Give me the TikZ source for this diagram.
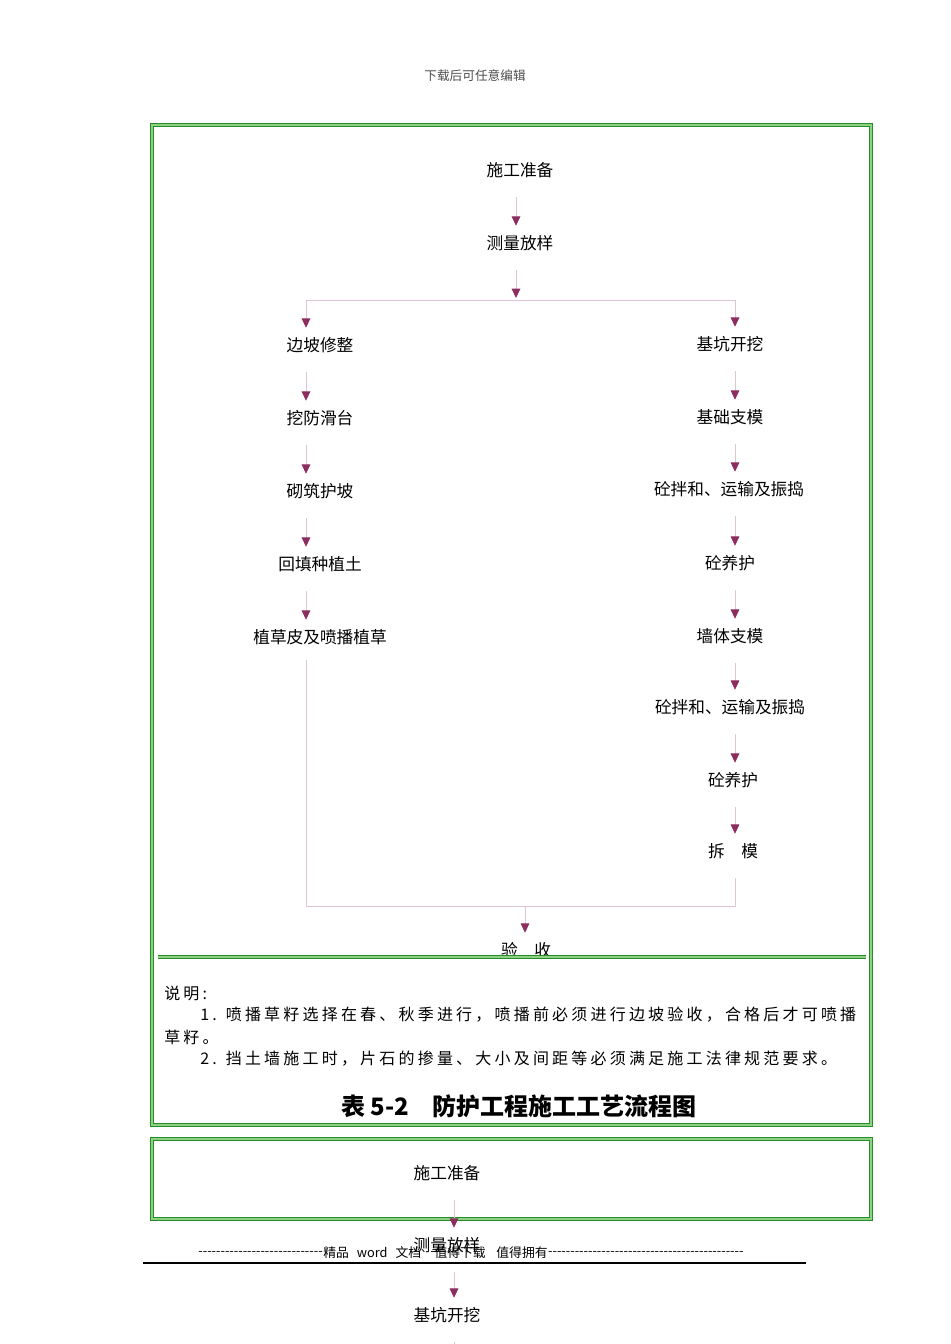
\documentclass[tikz,border=0pt]{standalone}
\usepackage{fontspec}
\setmainfont{Noto Sans CJK SC}
\newfontfamily\notefont[LetterSpace=20]{Noto Sans CJK SC}
\newfontfamily\footfont[Ligatures=TeXOff]{Noto Sans CJK SC}
\usetikzlibrary{arrows.meta, positioning}
\definecolor{framegreen}{RGB}{40, 140, 40}
\definecolor{framelight}{RGB}{140, 210, 130}
\definecolor{linkpink}{RGB}{222, 196, 212}
\definecolor{tipred}{RGB}{140, 45, 95}

\begin{document}
\begin{tikzpicture}[x=0.75pt, y=-0.75pt,
    stepnode/.style={inner sep=0pt, minimum height=15pt, font=\fontsize{12.5}{15}\selectfont},
    link/.style={draw=linkpink, line width=0.6pt},
    flow/.style={link, -{Triangle[length=7pt, width=6.5pt, color=tipred]},
                 shorten <=12.75pt, shorten >=5.25pt},
    frame/.style={draw=framegreen, line width=0.6pt, double=framelight, double distance=1.2pt},
    notetext/.style={anchor=west, inner sep=0pt, font=\notefont\fontsize{12}{14}\selectfont},
    foottext/.style={inner sep=0pt, font=\footfont\fontsize{9.6}{11}\selectfont}]
    \useasboundingbox (0,0) rectangle (950,1344);

    % Header
    \node[font=\fontsize{9.5}{11}\selectfont, text=black!70] (head) at (475,76) {下载后可任意编辑};

    % Column lines
    \coordinate (Mx) at (516,0);
    \coordinate (Lx) at (306,0);
    \coordinate (Rx) at (735,0);

    % Main steps
    \node[stepnode] (T1) at (520,170) {施工准备};
    \node[stepnode] (T2) at (520,243) {测量放样};

    % Left branch
    \node[stepnode] (L1) at (320,345) {边坡修整};
    \node[stepnode] (L2) at (320,418) {挖防滑台};
    \node[stepnode] (L3) at (320,491) {砌筑护坡};
    \node[stepnode] (L4) at (320,564) {回填种植土};
    \node[stepnode] (L5) at (320,637) {植草皮及喷播植草};

    % Right branch
    \node[stepnode] (R1) at (730,344) {基坑开挖};
    \node[stepnode] (R2) at (730,417) {基础支模};
    \node[stepnode] (R3) at (729,489) {砼拌和、运输及振捣};
    \node[stepnode] (R4) at (730,563) {砼养护};
    \node[stepnode] (R5) at (730,636) {墙体支模};
    \node[stepnode] (R6) at (730,707) {砼拌和、运输及振捣};
    \node[stepnode] (R7) at (733,780) {砼养护};
    \node[stepnode] (R8) at (733,851) {拆　模};

    \node[stepnode] (V) at (526,950) {验　收};

    % Arrows
    \draw[flow] (T1.south -| Mx) -- (T2.north -| Mx);
    \coordinate (split) at (516,300);
    \draw[flow, shorten >=1.5pt] (T2.south -| Mx) -- (split);
    \draw[link] (split -| Lx) -- (split -| Rx);
    \draw[flow, shorten <=0pt] (split -| Lx) -- (L1.north -| Lx);
    \draw[flow, shorten <=0pt] (split -| Rx) -- (R1.north -| Rx);

    \draw[flow] (L1.south -| Lx) -- (L2.north -| Lx);
    \draw[flow] (L2.south -| Lx) -- (L3.north -| Lx);
    \draw[flow] (L3.south -| Lx) -- (L4.north -| Lx);
    \draw[flow] (L4.south -| Lx) -- (L5.north -| Lx);

    \draw[flow] (R1.south -| Rx) -- (R2.north -| Rx);
    \draw[flow] (R2.south -| Rx) -- (R3.north -| Rx);
    \draw[flow] (R3.south -| Rx) -- (R4.north -| Rx);
    \draw[flow] (R4.south -| Rx) -- (R5.north -| Rx);
    \draw[flow] (R5.south -| Rx) -- (R6.north -| Rx);
    \draw[flow] (R6.south -| Rx) -- (R7.north -| Rx);
    \draw[flow] (R7.south -| Rx) -- (R8.north -| Rx);

    % Merge
    \coordinate (merge) at (525,906);
    \draw[link] ([yshift=-9.75pt]L5.south -| Lx) |- (merge -| Rx) -- ([yshift=-12.75pt]R8.south -| Rx);
    \draw[flow, shorten <=0pt] (merge) -- (V.north -| merge);

    % Frames
    \draw[frame] (152,125) rectangle (871,1125);
    \draw[frame] (158,957) -- (866,957);
    \draw[frame] (152,1139) rectangle (871,1219);

    % Notes
    \node[notetext] (n0) at (164,993) {说明:};
    \node[notetext] (n1) at (200,1015) {1. 喷播草籽选择在春、秋季进行，喷播前必须进行边坡验收，合格后才可喷播};
    \node[notetext] (n2) at (164,1037) {草籽。};
    \node[notetext] (n3) at (200,1059) {2. 挡土墙施工时，片石的掺量、大小及间距等必须满足施工法律规范要求。};
    \node[font=\bfseries\fontsize{18}{21}\selectfont] (title) at (519,1106) {表 5-2　防护工程施工工艺流程图};

    % Second page start
    \coordinate (Bx) at (454,0);
    \node[stepnode] (B1) at (447,1173) {施工准备};
    \node[stepnode] (B2) at (447,1245) {测量放样};
    \node[stepnode] (B3) at (447,1315) {基坑开挖};
    \coordinate (Bend) at (454,1370);
    \draw[flow] (B1.south -| Bx) -- (B2.north -| Bx);
    \draw[flow] (B2.south -| Bx) -- (B3.north -| Bx);
    \draw[link, shorten <=12.75pt] (B3.south -| Bx) -- (Bend);

    % Footer
    \node[foottext, anchor=west] (foot) at (323,1253)
        {精品\hspace{6pt}word\hspace{6pt}文档\hspace{10pt}值得下载\hspace{8pt}值得拥有};
    \node[foottext, anchor=east] (footL) at (foot.west) {----------------------------};
    \node[foottext, anchor=west] (footR) at (foot.east) {--------------------------------------------};
    \draw[line width=1.1pt] (143,1263) -- (806,1263);
\end{tikzpicture}
\end{document}
